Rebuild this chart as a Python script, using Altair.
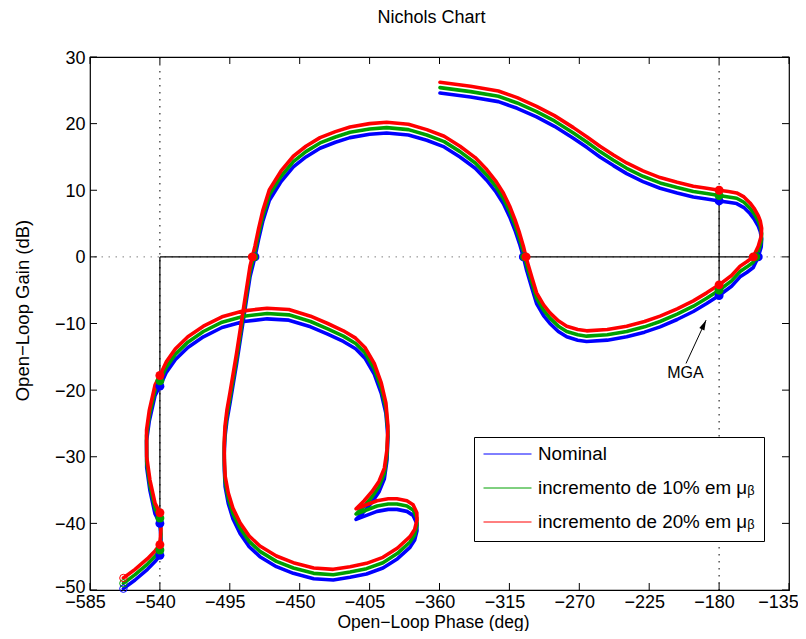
import altair as alt
import pandas as pd

# ---------------- data ----------------
phase = [
    -563.5, -556.0, -548.0, -543.0, -540.0, -539.3, -540.0, -543.1, -546.4, -548.5,
    -548.6, -546.8, -543.1, -540.0, -536.0, -530.0, -522.0, -512.0, -500.0, -486.0,
    -471.0, -457.0, -443.0, -432.0, -421.9, -414.0, -408.0, -402.0, -397.5, -394.5,
    -393.2, -393.8, -395.5, -399.0, -403.4, -408.5, -413.7, -407.0, -400.2, -393.0,
    -387.4, -381.0, -377.0, -374.6, -374.5, -376.0, -379.0, -387.0, -396.4, -407.0,
    -417.6, -428.4, -441.0, -454.1, -465.0, -475.6, -482.5, -488.4, -493.0, -496.0,
    -498.0, -498.5, -498.6, -498.1, -496.8, -494.9, -490.6, -486.3, -482.0, -478.8,
    -476.5, -473.8, -469.5, -462.0, -454.1, -446.0, -436.9, -427.0, -417.6, -405.0,
    -394.0, -380.0, -368.2, -357.0, -346.8, -337.0, -329.6, -323.5, -318.9, -314.8,
    -311.4, -308.5, -306.0, -303.9, -300.5, -297.5, -293.0, -288.9, -283.5, -278.1,
    -271.0, -265.3, -252.0, -239.5, -228.0, -218.0, -207.0, -196.6, -188.0, -180.0,
    -172.0, -166.5, -162.0, -158.0, -154.8, -152.9, -152.6, -153.5, -154.8, -157.5,
    -160.1, -164.0, -168.7, -174.0, -180.0, -188.0, -196.6, -207.0, -218.0, -229.0,
    -239.5, -248.0, -256.7, -265.0, -273.8, -286.0, -297.5, -310.0, -322.1, -340.0, -359.7,
]
gain_nominal = [
    -49.8, -48.5, -46.9, -45.7, -44.8, -42.4, -40.0, -38.6, -35.1, -31.6,
    -27.6, -24.6, -20.8, -19.4, -17.4, -15.4, -13.6, -12.0, -10.6, -9.7,
    -9.3, -9.5, -10.5, -11.6, -12.7, -13.8, -15.2, -17.6, -20.5, -23.5,
    -27.0, -30.5, -33.3, -35.3, -36.8, -38.2, -39.4, -38.8, -38.2, -37.9,
    -37.9, -38.2, -38.8, -40.0, -41.1, -42.5, -43.6, -45.3, -46.7, -47.6,
    -48.1, -48.5, -48.3, -47.5, -46.5, -45.0, -43.5, -41.5, -39.3, -37.0,
    -34.5, -32.0, -29.5, -27.0, -24.5, -22.0, -16.0, -9.5, -3.0, 0.0,
    2.6, 5.3, 8.5, 11.3, 13.5, 15.0, 16.3, 17.2, 17.9, 18.4,
    18.6, 18.3, 17.5, 16.5, 15.0, 13.3, 11.5, 9.7, 8.0, 6.0,
    4.0, 2.0, 0.0, -2.0, -4.7, -7.0, -8.8, -10.0, -11.2, -12.0,
    -12.5, -12.7, -12.5, -12.0, -11.3, -10.5, -9.4, -8.2, -7.0, -5.8,
    -4.4, -3.0, -2.3, -1.6, 0.0, 1.5, 2.7, 3.8, 4.6, 5.7,
    6.5, 7.4, 8.0, 8.2, 8.4, 8.7, 9.0, 9.6, 10.3, 11.3,
    12.5, 13.7, 15.0, 16.4, 17.8, 19.6, 21.0, 22.3, 23.3, 24.0, 24.6,
]
gain_10 = [
    -49.0, -47.7, -46.1, -44.9, -44.0, -41.6, -39.2, -37.8, -34.3, -30.8,
    -26.8, -23.8, -20.0, -18.6, -16.6, -14.6, -12.8, -11.2, -9.8, -8.9,
    -8.5, -8.7, -9.7, -10.8, -11.9, -13.0, -14.4, -16.8, -19.7, -22.7,
    -26.2, -29.7, -32.5, -34.5, -36.0, -37.4, -38.6, -38.0, -37.4, -37.1,
    -37.1, -37.4, -38.0, -39.2, -40.3, -41.7, -42.8, -44.5, -45.9, -46.8,
    -47.3, -47.7, -47.5, -46.7, -45.7, -44.2, -42.7, -40.7, -38.5, -36.2,
    -33.7, -31.2, -28.7, -26.2, -23.7, -21.2, -15.2, -8.7, -2.2, 0.8,
    3.4, 6.1, 9.3, 12.1, 14.3, 15.8, 17.1, 18.0, 18.7, 19.2,
    19.4, 19.1, 18.3, 17.3, 15.8, 14.1, 12.3, 10.5, 8.8, 6.8,
    4.8, 2.8, 0.8, -1.2, -3.9, -6.2, -8.0, -9.2, -10.4, -11.2,
    -11.7, -11.9, -11.7, -11.2, -10.5, -9.7, -8.6, -7.4, -6.2, -5.0,
    -3.6, -2.2, -1.5, -0.8, 0.8, 2.3, 3.5, 4.6, 5.4, 6.5,
    7.3, 8.2, 8.8, 9.0, 9.2, 9.5, 9.8, 10.4, 11.1, 12.1,
    13.3, 14.5, 15.8, 17.2, 18.6, 20.4, 21.8, 23.1, 24.1, 24.8, 25.4,
]
gain_20 = [
    -48.2, -46.9, -45.3, -44.1, -43.2, -40.8, -38.4, -37.0, -33.5, -30.0,
    -26.0, -23.0, -19.2, -17.8, -15.8, -13.8, -12.0, -10.4, -9.0, -8.1,
    -7.7, -7.9, -8.9, -10.0, -11.1, -12.2, -13.6, -16.0, -18.9, -21.9,
    -25.4, -28.9, -31.7, -33.7, -35.2, -36.6, -37.8, -37.2, -36.6, -36.3,
    -36.3, -36.6, -37.2, -38.4, -39.5, -40.9, -42.0, -43.7, -45.1, -46.0,
    -46.5, -46.9, -46.7, -45.9, -44.9, -43.4, -41.9, -39.9, -37.7, -35.4,
    -32.9, -30.4, -27.9, -25.4, -22.9, -20.4, -14.4, -7.9, -1.4, 1.6,
    4.2, 6.9, 10.1, 12.9, 15.1, 16.6, 17.9, 18.8, 19.5, 20.0,
    20.2, 19.9, 19.1, 18.1, 16.6, 14.9, 13.1, 11.3, 9.6, 7.6,
    5.6, 3.6, 1.6, -0.4, -3.1, -5.4, -7.2, -8.4, -9.6, -10.4,
    -10.9, -11.1, -10.9, -10.4, -9.7, -8.9, -7.8, -6.6, -5.4, -4.2,
    -2.8, -1.4, -0.7, 0.0, 1.6, 3.1, 4.3, 5.4, 6.2, 7.3,
    8.1, 9.0, 9.6, 9.8, 10.0, 10.3, 10.6, 11.2, 11.9, 12.9,
    14.1, 15.3, 16.6, 18.0, 19.4, 21.2, 22.6, 23.9, 24.9, 25.6, 26.2,
]

series_names = ["Nominal", "incremento de 10% em μᵦ", "incremento de 20% em μᵦ"]
series_colors = ["#0000ff", "#00a000", "#ff0000"]

# crossing markers (filled dots)
dot_phase_nominal = [-540, -540, -540, -478.8, -306.0, -180, -154.8, -180]
dot_gain_nominal = [-44.8, -40.0, -19.4, 0, 0, -5.8, 0, 8.4]
dot_phase_10 = [-540, -540, -540, -479.6, -305.2, -180, -156.4, -180]
dot_gain_10 = [-44.0, -39.2, -18.6, 0, 0, -5.0, 0, 9.2]
dot_phase_20 = [-540, -540, -540, -480.5, -304.3, -180, -158.0, -180]
dot_gain_20 = [-43.2, -38.4, -17.8, 0, 0, -4.2, 0, 10.0]

# margin indicator segments (solid black)
seg_phase1 = [-540, -306.0, -540, -180]
seg_phase2 = [-478.8, -155.0, -540, -180]
seg_gain1 = [0, 0, 0, 8.4]
seg_gain2 = [0, 0, -44.8, -5.8]

# dotted reference lines
ref_phase = [-540, -180]
ref_gain = [0]

# annotation
arrow_phase = [-201.3, -188.4]
arrow_gain = [-16.0, -9.5]
note_text = ["MGA"]
note_phase = [-201.7]
note_gain = [-18.2]

x_ticks = [-585, -540, -495, -450, -405, -360, -315, -270, -225, -180, -135]
y_ticks = [-50, -40, -30, -20, -10, 0, 10, 20, 30]

# ---------------- build tables ----------------
gains = [gain_nominal, gain_10, gain_20]
rows = []
for name, g in zip(series_names, gains):
    for i, (p, v) in enumerate(zip(phase, g)):
        rows.append({"series": name, "idx": i, "phase": p, "gain": v})
curves = pd.DataFrame(rows)

dots = [
    pd.DataFrame({"phase": dot_phase_nominal, "gain": dot_gain_nominal}),
    pd.DataFrame({"phase": dot_phase_10, "gain": dot_gain_10}),
    pd.DataFrame({"phase": dot_phase_20, "gain": dot_gain_20}),
]
segs = pd.DataFrame({"p1": seg_phase1, "p2": seg_phase2, "g1": seg_gain1, "g2": seg_gain2})
refv = pd.DataFrame({"phase": ref_phase})
refh = pd.DataFrame({"gain": ref_gain})
arrow = pd.DataFrame({"p1": [arrow_phase[0]], "p2": [arrow_phase[1]],
                      "g1": [arrow_gain[0]], "g2": [arrow_gain[1]]})
tip = pd.DataFrame({"phase": [arrow_phase[1]], "gain": [arrow_gain[1]]})
note = pd.DataFrame({"t": note_text, "phase": note_phase, "gain": note_gain})
xt = pd.DataFrame({"t": x_ticks})
yt = pd.DataFrame({"t": y_ticks})

W, H = 699, 533
FONT = "Liberation Sans"
minus_expr = "datum.value < 0 ? '\u2212' + format(-datum.value, 'd') : format(datum.value, 'd')"

xscale = alt.Scale(domain=[-585, -135], nice=False, zero=False)
yscale = alt.Scale(domain=[-50, 30], nice=False, zero=False)

xaxis = alt.Axis(values=x_ticks, labelExpr=minus_expr, ticks=False, tickSize=0, domain=False,
                 grid=False, labelFontSize=18, labelFont=FONT, labelColor="black",
                 labelPadding=17, labelBaseline="alphabetic",
                 labelOffset={"condition": {"test": "datum.value == -135", "value": -11}, "value": -5},
                 labelFlush=False, labelOverlap=False,
                 title="Open\u2212Loop Phase (deg)", titleFontSize=17.5, titleFont=FONT,
                 titleFontWeight="normal", titleColor="black", titleX=343, titleY=37,
                 titleBaseline="alphabetic")
yaxis = alt.Axis(values=y_ticks, labelExpr=minus_expr, ticks=False, tickSize=0, domain=False,
                 grid=False, labelFontSize=18, labelFont=FONT, labelColor="black",
                 labelPadding=5,
                 labelOffset={"condition": {"test": "datum.value == -50", "value": -3}, "value": 1},
                 labelBaseline="middle",
                 labelFlush=False, labelOverlap=False,
                 title="Open\u2212Loop Gain (dB)", titleFontSize=18.5, titleFont=FONT,
                 titleFontWeight="normal", titleColor="black", titleX=-68, titleY=253,
                 titleBaseline="middle")

X = alt.X("phase:Q", scale=xscale, axis=xaxis)
Y = alt.Y("gain:Q", scale=yscale, axis=yaxis)

color_enc = alt.Color(
    "series:N",
    scale=alt.Scale(domain=series_names, range=series_colors),
    legend=alt.Legend(
        title=None, orient="none", legendX=384, legendY=380,
        symbolType="stroke", symbolSize=2304, symbolStrokeWidth=1,
        clipHeight=16, rowPadding=15, padding=9,
        strokeColor="black", fillColor="white",
        labelFontSize=18.8, labelFont=FONT, labelColor="black",
        labelOffset=6, labelLimit=0,
    ),
)

layers = []
# dotted reference lines
layers.append(alt.Chart(refv).mark_rule(color="black", strokeWidth=1, strokeDash=[1.5, 5.5])
              .encode(x=alt.X("phase:Q", scale=xscale)))
layers.append(alt.Chart(refh).mark_rule(color="#808080", strokeWidth=1, strokeDash=[1.5, 5.5])
              .encode(y=alt.Y("gain:Q", scale=yscale)))
# margin indicator segments
layers.append(alt.Chart(segs).mark_rule(color="black", strokeWidth=1.2)
              .encode(x=alt.X("p1:Q", scale=xscale), x2="p2:Q",
                      y=alt.Y("g1:Q", scale=yscale), y2="g2:Q"))
# curves
for name in series_names:
    layers.append(
        alt.Chart(curves).transform_filter(alt.datum.series == name)
        .mark_line(strokeWidth=3.6, strokeJoin="round", strokeCap="round")
        .encode(x=X, y=Y, order="idx:Q", color=color_enc)
    )
# start markers (open circles) and crossing dots
for name, col in zip(series_names, series_colors):
    layers.append(
        alt.Chart(curves).transform_filter((alt.datum.series == name) & (alt.datum.idx == 0))
        .mark_point(shape="circle", filled=False, stroke=col, strokeWidth=1, size=55, opacity=1)
        .encode(x=X, y=Y)
    )
for d, col in zip(dots, series_colors):
    layers.append(
        alt.Chart(d).mark_circle(color=col, size=80, opacity=1).encode(x=X, y=Y)
    )
# annotation arrow
layers.append(alt.Chart(arrow).mark_rule(color="black", strokeWidth=1)
              .encode(x=alt.X("p1:Q", scale=xscale), x2="p2:Q",
                      y=alt.Y("g1:Q", scale=yscale), y2="g2:Q"))
layers.append(alt.Chart(tip).mark_point(shape="M0,0L0.35,1.25L-0.35,1.25Z", filled=True,
                                        color="black", size=256, angle=25, opacity=1)
              .encode(x=X, y=Y))
layers.append(alt.Chart(note).mark_text(font=FONT, fontSize=16, color="black",
                                        align="center", baseline="alphabetic")
              .encode(x=X, y=Y, text="t:N"))
# inward tick marks on all four sides
layers.append(alt.Chart(xt).mark_rule(color="black", strokeWidth=1)
              .encode(x=alt.X("t:Q", scale=xscale), y=alt.value(H), y2=alt.value(H - 7)))
layers.append(alt.Chart(xt).mark_rule(color="black", strokeWidth=1)
              .encode(x=alt.X("t:Q", scale=xscale), y=alt.value(0), y2=alt.value(7)))
layers.append(alt.Chart(yt).mark_rule(color="black", strokeWidth=1)
              .encode(y=alt.Y("t:Q", scale=yscale), x=alt.value(0), x2=alt.value(7)))
layers.append(alt.Chart(yt).mark_rule(color="black", strokeWidth=1)
              .encode(y=alt.Y("t:Q", scale=yscale), x=alt.value(W), x2=alt.value(W - 7)))

chart = (
    alt.layer(*layers)
    .properties(
        width=W, height=H,
        title=alt.TitleParams("Nichols Chart", font=FONT, fontSize=18, fontWeight="normal",
                              color="black", anchor="middle", dx=-8, offset=8,
                              baseline="alphabetic"),
        autosize=alt.AutoSizeParams(type="none"),
        padding={"left": 82, "top": 49, "right": 9, "bottom": 41},
    )
    .configure(font=FONT)
    .configure_view(stroke="black", strokeWidth=1.2)
)

chart.save("out.html", embed_options={"renderer": "svg", "actions": False})
